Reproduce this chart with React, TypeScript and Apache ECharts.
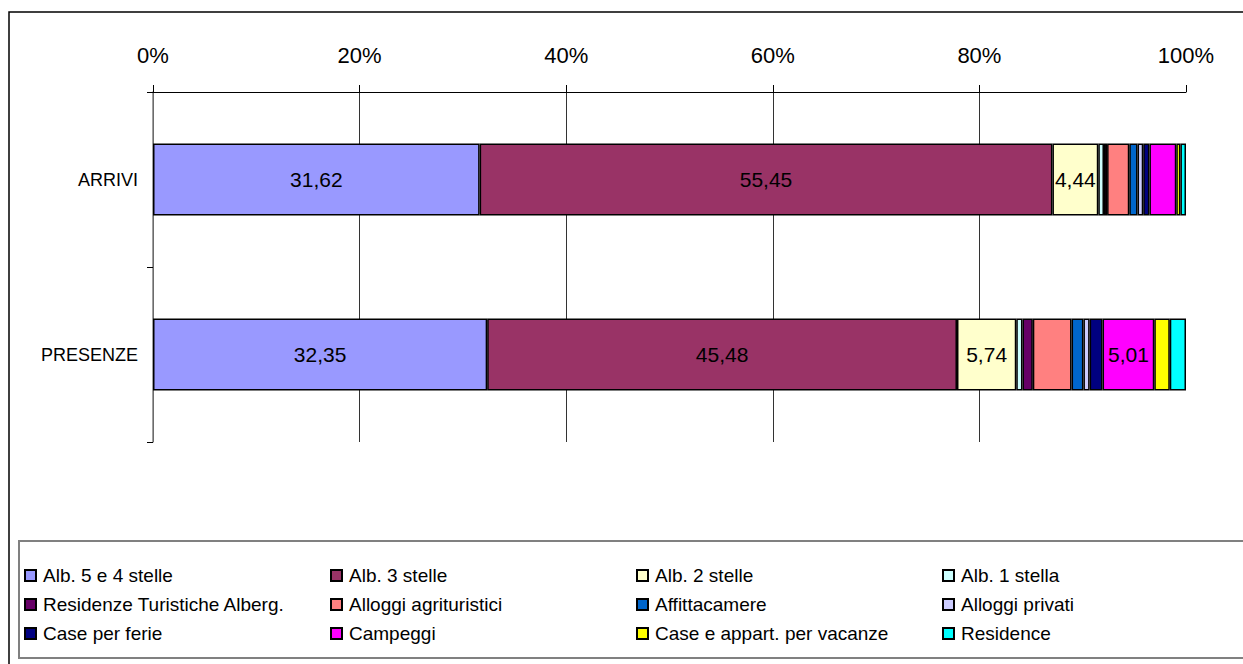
import React, { useEffect, useRef } from "react";
import * as echarts from "echarts";

const categories = ["ARRIVI", "PRESENZE"];
const seriesNames = [
  "Alb. 5 e 4 stelle",
  "Alb. 3 stelle",
  "Alb. 2 stelle",
  "Alb. 1 stella",
  "Residenze Turistiche Alberg.",
  "Alloggi agrituristici",
  "Affittacamere",
  "Alloggi privati",
  "Case per ferie",
  "Campeggi",
  "Case e appart. per vacanze",
  "Residence",
];
const arrivi = [31.62, 55.45, 4.44, 0.55, 0.3, 2.15, 0.8, 0.55, 0.6, 2.6, 0.4, 0.54];
const presenze = [32.35, 45.48, 5.74, 0.6, 1.0, 3.75, 1.15, 0.6, 1.25, 5.01, 1.5, 1.57];
const colors = [
  "#9999FF",
  "#993366",
  "#FFFFCC",
  "#CCFFFF",
  "#660066",
  "#FF8080",
  "#0066CC",
  "#CCCCFF",
  "#000080",
  "#FF00FF",
  "#FFFF00",
  "#00FFFF",
];
const xTickMax = 100;
const xTickStep = 20;

const FONT = "'Liberation Sans', Arial, sans-serif";

export default function App() {
  const ref = useRef<HTMLDivElement>(null);
  useEffect(() => {
    if (!ref.current) return;
    const chart = echarts.init(ref.current, null, { renderer: "svg" });
    const colX = [24, 330, 636, 942];
    const rowY = [566, 595, 624];
    const legends = seriesNames.map((name, i) => ({
      data: [name],
      icon: "rect",
      left: colX[i % 4],
      top: rowY[Math.floor(i / 4)],
      itemWidth: 11,
      itemHeight: 11,
      padding: 0,
      itemGap: 0,
      selectedMode: false,
      textStyle: { fontSize: 19, color: "#000", fontFamily: FONT, padding: [0, 0, 0, 2] },
    }));
    const series = seriesNames.map((name, i) => ({
      name,
      type: "bar",
      stack: "total",
      barWidth: 72,
      itemStyle: { color: colors[i], borderColor: "#000", borderWidth: 1.5 },
      label: {
        show: true,
        position: "inside",
        color: "#000",
        fontSize: 21,
        fontFamily: FONT,
        formatter: (p: any) => (p.value >= 4 ? p.value.toFixed(2).replace(".", ",") : ""),
      },
      data: [arrivi[i], presenze[i]],
    }));
    chart.setOption({
      animation: false,
      backgroundColor: "#fff",
      color: colors,
      textStyle: { fontFamily: FONT },
      graphic: [
        {
          type: "rect",
          shape: { x: 9, y: 12, width: 1300, height: 700 },
          style: { fill: "none", stroke: "#000", lineWidth: 1.5 },
          silent: true,
          z: -1,
        },
        {
          type: "rect",
          shape: { x: 19, y: 541, width: 1300, height: 117 },
          style: { fill: "none", stroke: "#808080", lineWidth: 2 },
          silent: true,
          z: -1,
        },
      ],
      legend: legends,
      grid: { left: 153, right: 57, top: 92, height: 350 },
      xAxis: {
        type: "value",
        position: "top",
        min: 0,
        max: xTickMax,
        interval: xTickStep,
        axisLine: { show: true, lineStyle: { color: "#000", width: 1 } },
        axisTick: { show: true, length: 7, lineStyle: { color: "#000" } },
        axisLabel: {
          formatter: "{value}%",
          fontSize: 22,
          color: "#000",
          fontFamily: FONT,
          margin: 26,
        },
        splitLine: {
          show: true,
          showMaxLine: false,
          lineStyle: { color: "#333", width: 1 },
        },
      },
      yAxis: {
        type: "category",
        inverse: true,
        data: categories,
        axisLine: { show: true, lineStyle: { color: "#808080", width: 1.5 } },
        axisTick: { show: true, length: 6, lineStyle: { color: "#000" } },
        axisLabel: { fontSize: 18, color: "#000", fontFamily: FONT, margin: 15 },
      },
      series,
    });
    return () => chart.dispose();
  }, []);
  return (
    <div
      ref={ref}
      style={{ position: "absolute", left: 0, top: 0, width: 1243, height: 664 }}
    />
  );
}
